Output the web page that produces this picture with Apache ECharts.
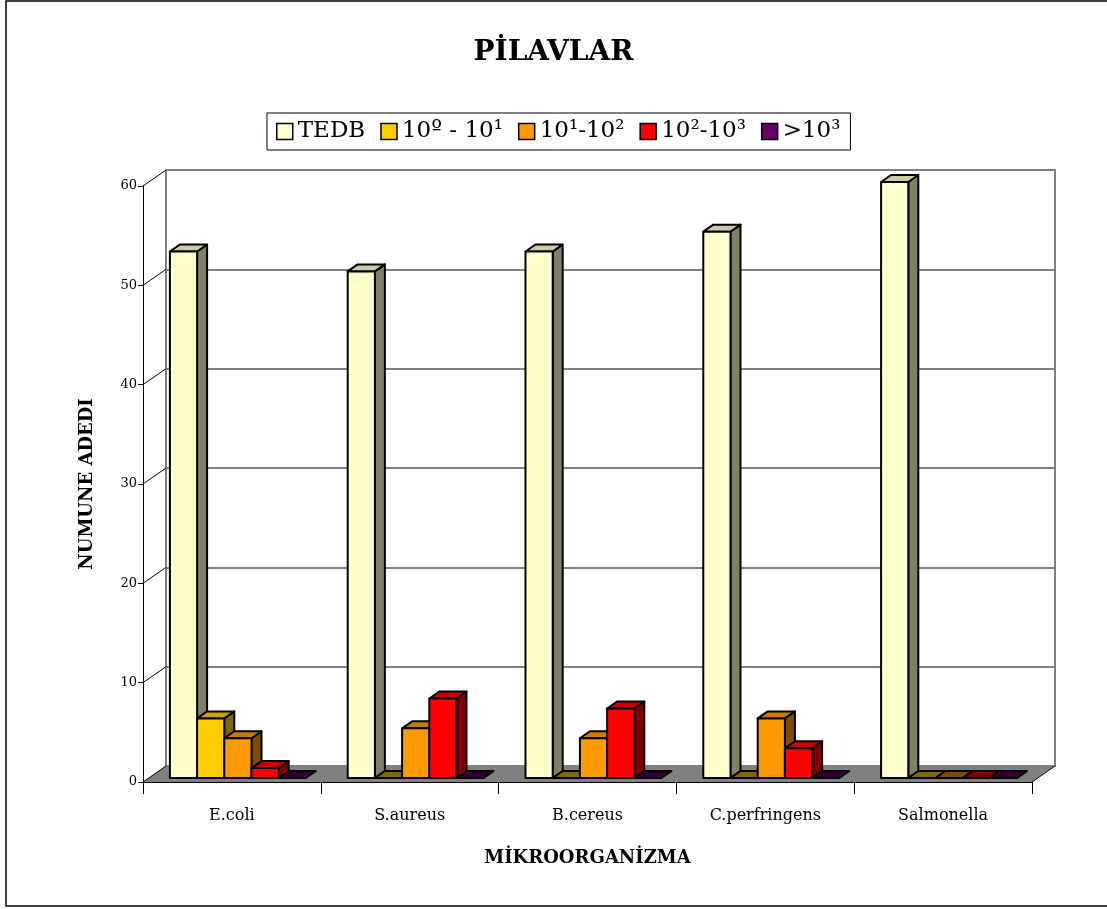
<!DOCTYPE html>
<html>
<head>
<meta charset="utf-8">
<script src="https://cdn.jsdelivr.net/npm/echarts@6/dist/echarts.min.js"></script>
<style>
html,body{margin:0;padding:0;background:#fff;}
#chart{width:1107px;height:909px;}
</style>
</head>
<body>
<div id="chart"></div>
<script>
// ---- data ----
const categories = ['E.coli', 'S.aureus', 'B.cereus', 'C.perfringens', 'Salmonella'];
const seriesNames = ['TEDB', '10º - 10¹', '10¹-10²', '10²-10³', '>10³'];
const tedb = [53, 51, 53, 55, 60];
const range0to1 = [6, 0, 0, 0, 0];
const range1to2 = [4, 5, 4, 6, 0];
const range2to3 = [1, 8, 7, 3, 0];
const above3 = [0, 0, 0, 0, 0];
const yTicks = [0, 10, 20, 30, 40, 50, 60];
const seriesValues = [tedb, range0to1, range1to2, range2to3, above3];

// ---- styles ----
const frontColors = ['#FFFFCC', '#FFCC00', '#FF9900', '#FF0000', '#660066'];
const topColors   = ['#CCCCA3', '#CCA300', '#CC7A00', '#CC0000', '#520052'];
const sideColors  = ['#808066', '#806600', '#804D00', '#800000', '#330033'];
const FONT = 'DejaVu Serif';
const WALL_DX = 23, WALL_DY = -16;   // back wall offset
const BAR_SHIFT_X = 6, BAR_SHIFT_Y = -4; // bar row depth position
const BAR_DX = 10, BAR_DY = -7;      // bar depth
const BAR_RATIO = 0.153;

const chart = echarts.init(document.getElementById('chart'), null, {renderer: 'canvas'});

function barRender(sIdx) {
  return function (params, api) {
    const ci = api.value(0);
    const v = api.value(1);
    const c0 = api.coord([ci, 0]);
    const c1 = api.coord([ci, v]);
    const catW = api.size([1, 0])[0];
    const bw = catW * BAR_RATIO;
    const left = c0[0] - 2.5 * bw + sIdx * bw + BAR_SHIFT_X;
    const y0 = c0[1] + BAR_SHIFT_Y;
    const y1 = c1[1] + BAR_SHIFT_Y;
    const stroke = {stroke: '#000', lineWidth: 2, lineJoin: 'round'};
    const children = [];
    const top = {
      type: 'polygon',
      shape: {points: [[left, y1], [left + bw, y1], [left + bw + BAR_DX, y1 + BAR_DY], [left + BAR_DX, y1 + BAR_DY]]},
      style: Object.assign({fill: v === 0 ? sideColors[sIdx] : topColors[sIdx]}, stroke)
    };
    if (v > 0) {
      children.push({
        type: 'polygon',
        shape: {points: [[left + bw, y1], [left + bw + BAR_DX, y1 + BAR_DY], [left + bw + BAR_DX, y0 + BAR_DY], [left + bw, y0]]},
        style: Object.assign({fill: sideColors[sIdx]}, stroke)
      });
      children.push(top);
      children.push({
        type: 'rect',
        shape: {x: left, y: y1, width: bw, height: y0 - y1},
        style: Object.assign({fill: frontColors[sIdx]}, stroke)
      });
    } else {
      children.push(top);
    }
    return {type: 'group', children: children};
  };
}

const barSeries = seriesNames.map((name, s) => ({
  name: name,
  type: 'custom',
  xAxisIndex: 0,
  yAxisIndex: 0,
  z: 3,
  itemStyle: {color: frontColors[s], borderColor: '#000', borderWidth: 1.5},
  renderItem: barRender(s),
  data: seriesValues[s].map((v, i) => [i, v])
}));

const floorSeries = {
  type: 'custom',
  name: 'floor',
  xAxisIndex: 0, yAxisIndex: 0,
  z: 1,
  silent: true,
  renderItem: function (params, api) {
    const cs = params.coordSys;
    const yb = api.coord([0, 0])[1];
    const x0 = cs.x, x1 = cs.x + cs.width;
    return {
      type: 'group',
      children: [
        {type: 'polygon', shape: {points: [[x0, yb], [x1, yb], [x1 + WALL_DX, yb + WALL_DY], [x0 + WALL_DX, yb + WALL_DY]]},
         style: {fill: '#808080'}},
        {type: 'line', shape: {x1: x1, y1: yb, x2: x1 + WALL_DX, y2: yb + WALL_DY}, style: {stroke: '#000', lineWidth: 1}}
      ]
    };
  },
  data: [[0, 0]]
};

const diagSeries = {
  type: 'custom',
  name: 'diag',
  xAxisIndex: 0, yAxisIndex: 0,
  z: 2,
  silent: true,
  renderItem: function (params, api) {
    const cs = params.coordSys;
    const y = api.coord([0, api.value(1)])[1];
    const x0 = cs.x;
    return {type: 'line', shape: {x1: x0, y1: y, x2: x0 + WALL_DX, y2: y + WALL_DY}, style: {stroke: '#000', lineWidth: 1}};
  },
  data: yTicks.map(t => [0, t])
};

const option = {
  animation: false,
  backgroundColor: '#fff',
  title: {
    text: 'PİLAVLAR',
    left: 'center',
    top: 34,
    textStyle: {fontFamily: FONT, fontWeight: 'bold', fontSize: 28, color: '#000'}
  },
  legend: {
    data: seriesNames.map((n, i) => ({name: n, icon: 'rect', itemStyle: {color: frontColors[i], borderColor: '#000', borderWidth: 1.5}})),
    left: 267,
    top: 113,
    padding: [7, 10, 7, 9],
    itemGap: 15,
    itemWidth: 16,
    itemHeight: 16,
    borderColor: '#000',
    borderWidth: 1,
    textStyle: {fontFamily: FONT, fontSize: 23, color: '#000'}
  },
  grid: [
    {left: 143, right: 75, top: 186, bottom: 127, containLabel: false},
    {left: 166, right: 52, top: 170, bottom: 143, show: true, borderColor: '#808080', borderWidth: 2, backgroundColor: 'transparent'}
  ],
  xAxis: [
    {
      gridIndex: 0, type: 'category', data: categories, boundaryGap: true, z: 5,
      name: 'MİKROORGANİZMA', nameLocation: 'middle', nameGap: 67,
      nameTextStyle: {fontFamily: FONT, fontWeight: 'bold', fontSize: 18, color: '#000'},
      axisLine: {show: true, lineStyle: {color: '#000', width: 1}},
      axisTick: {show: true, length: 12, alignWithLabel: false, lineStyle: {color: '#000'}},
      axisLabel: {fontFamily: FONT, fontSize: 16, color: '#000', margin: 26},
      splitLine: {show: false}
    },
    {
      gridIndex: 1, type: 'category', data: categories, show: false
    }
  ],
  yAxis: [
    {
      gridIndex: 0, type: 'value', min: 0, max: 60, interval: 10, z: 5,
      name: 'NUMUNE ADEDI', nameLocation: 'middle', nameGap: 47, nameRotate: 90,
      nameTextStyle: {fontFamily: FONT, fontWeight: 'bold', fontSize: 18, color: '#000'},
      axisLine: {show: true, lineStyle: {color: '#000', width: 1}},
      axisTick: {show: true, length: 5, lineStyle: {color: '#000'}},
      axisLabel: {fontFamily: FONT, fontSize: 13, color: '#000', margin: 6},
      splitLine: {show: false}
    },
    {
      gridIndex: 1, type: 'value', min: 0, max: 60, interval: 10,
      axisLine: {show: false}, axisTick: {show: false}, axisLabel: {show: false},
      splitLine: {show: true, lineStyle: {color: '#808080', width: 2}}
    }
  ],
  graphic: [
    {type: 'rect', shape: {x: 6, y: 1, width: 1120, height: 905}, style: {fill: 'none', stroke: '#000', lineWidth: 1.5}, silent: true, z: 0}
  ],
  series: [floorSeries, diagSeries].concat(barSeries)
};

chart.setOption(option);
</script>
</body>
</html>
